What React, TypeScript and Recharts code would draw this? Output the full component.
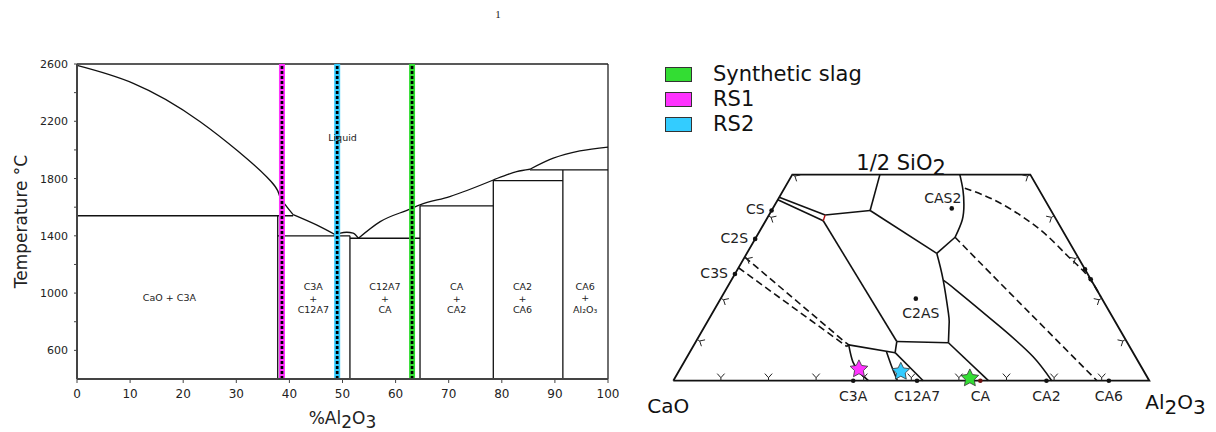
import React from 'react';
import { ComposedChart, Line, Scatter, XAxis, YAxis, ReferenceLine, Label, Legend } from 'recharts';

const FONT = '"DejaVu Sans", Verdana, sans-serif';
const INK = '#111';

type Pt = [number, number];

// ---------- Binary CaO–Al2O3 diagram: [wt% Al2O3, temperature °C] ----------
const compositionTicks = [0, 10, 20, 30, 40, 50, 60, 70, 80, 90, 100];
const temperatureTicks = [600, 800, 1000, 1200, 1400, 1600, 1800, 2000, 2200, 2400, 2600];
const labelledTemperatures = [600, 1000, 1400, 1800, 2200, 2600];

const liquidusCaO: Pt[] = [[0, 2590], [10.6, 2465], [23.2, 2197], [35.7, 1813], [38.2, 1674], [40.7, 1548]];
const liquidusC3A: Pt[] = [[40.7, 1548], [45.1, 1476], [48.9, 1402]];
const liquidusC12A7: Pt[] = [[48.9, 1402], [49.6, 1418], [50.8, 1425], [52.0, 1418], [53.0, 1383]];
const liquidusCA: Pt[] = [[53.0, 1383], [57.1, 1499], [62.7, 1586], [64.6, 1616], [70.2, 1674], [78.4, 1790]];
const liquidusCA2: Pt[] = [[78.4, 1790], [80.9, 1825], [82.8, 1848], [85.3, 1865]];
const liquidusCA6: Pt[] = [[85.3, 1865], [89.7, 1942], [94.7, 1993], [100, 2020]];

const phaseBoundaries: Pt[][] = [
  [[0, 1540], [40.7, 1540]],
  [[37.8, 400], [37.8, 1540]],
  [[37.8, 1400], [51.4, 1400]],
  [[51.4, 400], [51.4, 1400]],
  [[51.4, 1383], [64.6, 1383]],
  [[64.6, 400], [64.6, 1609]],
  [[64.6, 1609], [78.4, 1609]],
  [[78.4, 400], [78.4, 1790]],
  [[78.4, 1785], [91.5, 1785]],
  [[91.5, 400], [91.5, 1860]],
  [[85.3, 1860], [100, 1860]],
];

const regionX = [50, 17.4, 44.5, 58.0, 71.5, 83.9, 95.7];
const regionT = [2085, 970, 964, 964, 964, 964, 966];
const regionText: string[][] = [
  ['Liquid'],
  ['CaO + C3A'],
  ['C3A', '+', 'C12A7'],
  ['C12A7', '+', 'CA'],
  ['CA', '+', 'CA2'],
  ['CA2', '+', 'CA6'],
  ['CA6', '+', 'Al₂O₃'],
];

// ---------- Slag samples ----------
const sampleNames = ['Synthetic slag', 'RS1', 'RS2'];
const sampleColors = ['#33dd33', '#ff33ff', '#33ccff'];
const sampleBinaryAl2O3 = [63.1, 38.6, 49.0];
// [wt% Al2O3, wt% SiO2]
const sampleTernary: Pt[] = [[62.0, 0.6], [37.6, 2.8], [46.7, 2.2]];

// ---------- CaO–Al2O3–SiO2 section (SiO2 up to 50 wt%): [wt% Al2O3, wt% SiO2] ----------
const sectionFrame: Pt[] = [[0, 0], [100, 0], [50, 50], [0, 50], [0, 0]];

const solidBoundaries: Pt[][] = [
  [[0, 44.5], [11.8, 40.2]],
  [[0, 43.9], [12.1, 38.8]],
  [[11.8, 40.2], [20.7, 41.3]],
  [[20.7, 41.3], [18.4, 50]],
  [[20.7, 41.3], [39.9, 30.9]],
  [[39.9, 30.9], [41.8, 34.8]],
  [[12.1, 38.8], [42.2, 9.5]],
  [[42.2, 9.5], [43.2, 6.8]],
  [[42.2, 9.5], [53.2, 9.2]],
  [[53.2, 9.2], [66.2, 0]],
  [[31.5, 9.3], [32.5, 8.7], [32.3, 8.3]],
  [[32.5, 8.7], [43.2, 6.8]],
  [[43.2, 6.8], [52.5, 0]],
];
const curvedBoundaries: Pt[][] = [
  [[41.8, 34.8], [41.2, 39.0], [39.7, 42.7], [37.7, 46.3], [35.2, 50]],
  [[39.9, 30.9], [44.5, 24.4], [49.6, 16.4], [51.0, 13.9], [53.2, 9.2]],
  [[44.5, 24.4], [48.4, 22.0], [62.1, 13.1], [72.7, 5.8], [79.5, 0]],
  [[32.5, 8.7], [35.5, 4.5], [38.3, 1.9], [41.0, 0]],
  [[41.3, 7.0], [44.2, 3.4], [47.1, 0]],
];
const dashedBoundaries: Pt[][] = [
  [[41.8, 34.8], [59.1, 22.0], [89.0, 0]],
  [[37.9, 46.7], [47.1, 43.1], [58.8, 36.6], [67.4, 30.5], [74.0, 25.7], [79.6, 20.4]],
  [[0, 30.0], [31.5, 9.3]],
  [[0, 27.4], [32.3, 8.3]],
];
const redJoin: Pt[] = [[11.8, 40.2], [12.1, 38.8]];

const baseCompounds = ['C3A', 'C12A7', 'CA', 'CA2', 'CA6'];
const baseCompoundAl2O3 = [37.8, 51.2, 64.5, 78.4, 91.5];
const silicateCompounds = ['CS', 'C2S', 'C3S'];
const silicateSiO2 = [41.3, 34.4, 25.9];
const mulliteSiO2 = [27.0, 24.6];
const ternaryCompounds = ['CAS2', 'C2AS'];
const ternaryCompoundAl2O3 = [37.6, 41.0];
const ternaryCompoundSiO2 = [41.8, 19.9];

const edgeTickSteps = [10, 20, 30, 40, 50, 60, 70, 80, 90];
const sideTickSteps = [10, 20, 30, 40, 50];

// ---------- helpers ----------
const toXT = (pts: Pt[]) => pts.map(([x, t]) => ({ x, t }));
const toUV = (pts: Pt[]) => pts.map(([a, s]) => ({ u: a + s / 2, v: s }));

const lineProps = {
  dot: false as const,
  activeDot: false as const,
  isAnimationActive: false,
  legendType: 'none' as const,
};

const TempTick = (props: any) => {
  const { x, y, payload } = props;
  if (!labelledTemperatures.includes(payload.value)) return <g />;
  return (
    <text x={x} y={y} dy={4} textAnchor="end" fontSize={11} fill="#222" fontFamily={FONT}>
      {payload.value}
    </text>
  );
};

const XTitle = (props: any) => {
  const vb = props.viewBox;
  return (
    <text x={vb.x + vb.width / 2} y={vb.y + vb.height} textAnchor="middle" fontSize={17} fill="#222" fontFamily={FONT}>
      %Al<tspan dy={4}>2</tspan>
      <tspan dy={-4}>O</tspan>
      <tspan dy={4}>3</tspan>
    </text>
  );
};

const YTitle = (props: any) => {
  const vb = props.viewBox;
  const cx = vb.x - 6;
  const cy = vb.y + vb.height / 2;
  return (
    <text
      x={cx}
      y={cy}
      transform={`rotate(-90 ${cx} ${cy})`}
      textAnchor="middle"
      dominantBaseline="central"
      fontSize={17}
      fill="#222"
      fontFamily={FONT}
    >
      Temperature °C
    </text>
  );
};

const renderRegionLabel = (p: any) => {
  const lines: string[] = p.payload.lines;
  const step = 11.7;
  const top = p.cy - ((lines.length - 1) * step) / 2 + 3.5;
  return (
    <text key={`r-${p.index}`} textAnchor="middle" fontSize={9.5} fill="#222" fontFamily={FONT}>
      {lines.map((l, i) => (
        <tspan key={i} x={p.cx} y={top + i * step}>
          {l}
        </tspan>
      ))}
    </text>
  );
};

function PhaseDiagram() {
  const regions = regionX.map((x, i) => ({ x, t: regionT[i], lines: regionText[i] }));
  const smoothLiquidus = [liquidusCaO, liquidusC3A];
  const liquidus = [liquidusC12A7, liquidusCA, liquidusCA2, liquidusCA6];
  return (
    <ComposedChart width={620} height={424} margin={{ top: 56, right: 20, bottom: 8, left: 19 }}>
      <XAxis
        type="number"
        dataKey="x"
        domain={[0, 100]}
        ticks={compositionTicks}
        interval={0}
        height={45}
        tickSize={4}
        tickMargin={6}
        tick={{ fontSize: 12, fill: '#222', fontFamily: FONT }}
        axisLine={{ stroke: '#444', strokeWidth: 2 }}
        tickLine={{ stroke: '#444' }}
      >
        <Label content={XTitle} />
      </XAxis>
      <YAxis
        type="number"
        dataKey="t"
        domain={[400, 2600]}
        ticks={temperatureTicks}
        interval={0}
        width={50}
        tickSize={3}
        tickMargin={6}
        tick={TempTick}
        axisLine={{ stroke: '#444', strokeWidth: 2 }}
        tickLine={{ stroke: '#444' }}
      >
        <Label content={YTitle} />
      </YAxis>
      <ReferenceLine y={2600} stroke="#222" strokeWidth={1.3} />
      <ReferenceLine x={100} stroke="#222" strokeWidth={1.3} />
      {smoothLiquidus.map((pts, i) => (
        <Line key={`sliq-${i}`} data={toXT(pts)} dataKey="t" type="natural" stroke={INK} strokeWidth={1.3} {...lineProps} />
      ))}
      {liquidus.map((pts, i) => (
        <Line key={`liq-${i}`} data={toXT(pts)} dataKey="t" type="monotone" stroke={INK} strokeWidth={1.3} {...lineProps} />
      ))}
      {phaseBoundaries.map((pts, i) => (
        <Line key={`pb-${i}`} data={toXT(pts)} dataKey="t" type="linear" stroke={INK} strokeWidth={1.3} {...lineProps} />
      ))}
      <Line data={regions} dataKey="t" stroke="none" dot={renderRegionLabel} activeDot={false} isAnimationActive={false} legendType="none" />
      {sampleBinaryAl2O3.map((x, i) => (
        <Line
          key={`band-${i}`}
          data={toXT([[x, 400], [x, 2600]])}
          dataKey="t"
          type="linear"
          stroke={sampleColors[i]}
          strokeWidth={6}
          {...lineProps}
        />
      ))}
      {sampleBinaryAl2O3.map((x, i) => (
        <Line
          key={`dots-${i}`}
          data={toXT([[x, 400], [x, 2600]])}
          dataKey="t"
          type="linear"
          stroke="#000"
          strokeWidth={2.7}
          strokeDasharray="3 2"
          {...lineProps}
        />
      ))}
    </ComposedChart>
  );
}

// ---------- ternary section ----------
const makeEdgeTick = (angleDeg: number) => (p: any) => {
  const a = (angleDeg * Math.PI) / 180;
  const nx = Math.cos(a);
  const ny = Math.sin(a);
  const sx = p.cx + 3 * nx;
  const sy = p.cy + 3 * ny;
  const spread = (42 * Math.PI) / 180;
  const len = 5.5;
  const ax = sx + len * Math.cos(a - spread);
  const ay = sy + len * Math.sin(a - spread);
  const bx = sx + len * Math.cos(a + spread);
  const by = sy + len * Math.sin(a + spread);
  return (
    <path
      d={`M${p.cx},${p.cy}L${sx},${sy}M${ax},${ay}L${sx},${sy}L${bx},${by}`}
      stroke="#222"
      strokeWidth={1}
      fill="none"
    />
  );
};

const starPath = (cx: number, cy: number, R: number, r: number) => {
  const pts: string[] = [];
  for (let i = 0; i < 10; i++) {
    const ang = ((-90 + i * 36) * Math.PI) / 180;
    const rad = i % 2 === 0 ? R : r;
    pts.push(`${cx + rad * Math.cos(ang)},${cy + rad * Math.sin(ang)}`);
  }
  return pts.join(' ');
};

const makeStar = (color: string) => (p: any) => (
  <polygon points={starPath(p.cx, p.cy, 9.3, 4.6)} fill={color} stroke="#333" strokeWidth={0.8} />
);

const renderBaseCompound = (p: any) => (
  <g>
    <circle cx={p.cx} cy={p.cy} r={2.3} fill={p.payload.name === 'CA' ? '#6b1010' : INK} />
    <text x={p.cx} y={p.cy + 20} textAnchor="middle" fontSize={14} fill="#222" fontFamily={FONT}>
      {p.payload.name}
    </text>
  </g>
);

const renderSilicate = (p: any) => (
  <g>
    <circle cx={p.cx} cy={p.cy} r={2.3} fill={INK} />
    <text x={p.cx - 7} y={p.cy + 4} textAnchor="end" fontSize={14} fill="#222" fontFamily={FONT}>
      {p.payload.name}
    </text>
  </g>
);

const innerLabelOffset: Record<string, [number, number]> = { CAS2: [-9, -5], C2AS: [5, 19.6] };

const renderInnerCompound = (p: any) => {
  const [dx, dy] = innerLabelOffset[p.payload.name] ?? [0, 0];
  return (
    <g>
      <circle cx={p.cx} cy={p.cy} r={2.3} fill={INK} />
      <text x={p.cx + dx} y={p.cy + dy} textAnchor="middle" fontSize={14} fill="#222" fontFamily={FONT}>
        {p.payload.name}
      </text>
    </g>
  );
};

const renderDot = (p: any) => <circle cx={p.cx} cy={p.cy} r={2.3} fill={INK} />;

const renderCornerLabel = (p: any) => {
  const name = p.payload.name;
  if (name === 'CaO') {
    return (
      <text x={p.cx - 26} y={p.cy + 32} fontSize={20} fill="#111" fontFamily={FONT}>
        CaO
      </text>
    );
  }
  if (name === 'Al2O3') {
    return (
      <text x={p.cx - 4} y={p.cy + 28.5} fontSize={20} fill="#111" fontFamily={FONT}>
        Al<tspan dy={5}>2</tspan>
        <tspan dy={-5}>O</tspan>
        <tspan dy={5}>3</tspan>
      </text>
    );
  }
  return (
    <text x={p.cx - 55} y={p.cy - 4.6} fontSize={21} fill="#111" fontFamily={FONT}>
      1/2 SiO<tspan dy={5}>2</tspan>
    </text>
  );
};

const renderLegend = () => (
  <div style={{ fontFamily: FONT }}>
    {sampleNames.map((name, i) => (
      <div key={name} style={{ display: 'flex', alignItems: 'center', height: 25 }}>
        <span
          style={{
            display: 'inline-block',
            width: 27,
            height: 15,
            background: sampleColors[i],
            border: '1.5px solid #333',
            boxSizing: 'border-box',
          }}
        />
        <span style={{ marginLeft: 21, fontSize: 21, color: '#111', lineHeight: '25px' }}>{name}</span>
      </div>
    ))}
  </div>
);

function TernaryDiagram() {
  const corners = toUV([[0, 0], [100, 0], [25, 50]]).map((d, i) => ({ ...d, name: ['CaO', 'Al2O3', 'SiO2'][i] }));
  const baseDots = toUV(baseCompoundAl2O3.map((a) => [a, 0] as Pt)).map((d, i) => ({ ...d, name: baseCompounds[i] }));
  const silDots = toUV(silicateSiO2.map((s) => [0, s] as Pt)).map((d, i) => ({ ...d, name: silicateCompounds[i] }));
  const mulDots = toUV(mulliteSiO2.map((s) => [100 - s, s] as Pt));
  const innerDots = toUV(ternaryCompoundAl2O3.map((a, i) => [a, ternaryCompoundSiO2[i]] as Pt)).map((d, i) => ({
    ...d,
    name: ternaryCompounds[i],
  }));
  const baseTicks = toUV(edgeTickSteps.map((a) => [a, 0] as Pt));
  const leftTicks = toUV(sideTickSteps.map((s) => [0, s] as Pt));
  const rightTicks = toUV(sideTickSteps.map((s) => [100 - s, s] as Pt));

  return (
    <ComposedChart width={568} height={424} margin={{ top: 166.6, right: 58.7, bottom: 51.3, left: 33.3 }}>
      <XAxis type="number" dataKey="u" domain={[0, 100]} hide />
      <YAxis type="number" dataKey="v" domain={[0, 50]} hide />
      <Legend
        content={renderLegend}
        layout="horizontal"
        verticalAlign="middle"
        align="center"
        wrapperStyle={{ left: 25, top: 54, width: 260, height: 75 }}
      />
      <Line data={toUV(sectionFrame)} dataKey="v" type="linear" stroke={INK} strokeWidth={1.8} {...lineProps} />
      {solidBoundaries.map((pts, i) => (
        <Line key={`sb-${i}`} data={toUV(pts)} dataKey="v" type="linear" stroke={INK} strokeWidth={1.6} {...lineProps} />
      ))}
      {curvedBoundaries.map((pts, i) => (
        <Line key={`cb-${i}`} data={toUV(pts)} dataKey="v" type="natural" stroke={INK} strokeWidth={1.6} {...lineProps} />
      ))}
      {dashedBoundaries.map((pts, i) => (
        <Line
          key={`db-${i}`}
          data={toUV(pts)}
          dataKey="v"
          type="natural"
          stroke={INK}
          strokeWidth={1.6}
          strokeDasharray="7 4"
          {...lineProps}
        />
      ))}
      <Line data={toUV(redJoin)} dataKey="v" type="linear" stroke="#b01010" strokeWidth={1.4} {...lineProps} />
      <Scatter data={baseTicks} shape={makeEdgeTick(-90)} isAnimationActive={false} legendType="none" />
      <Scatter data={leftTicks} shape={makeEdgeTick(30)} isAnimationActive={false} legendType="none" />
      <Scatter data={rightTicks} shape={makeEdgeTick(150)} isAnimationActive={false} legendType="none" />
      <Scatter data={baseDots} shape={renderBaseCompound} isAnimationActive={false} legendType="none" />
      <Scatter data={silDots} shape={renderSilicate} isAnimationActive={false} legendType="none" />
      <Scatter data={mulDots} shape={renderDot} isAnimationActive={false} legendType="none" />
      <Scatter data={innerDots} shape={renderInnerCompound} isAnimationActive={false} legendType="none" />
      <Scatter data={corners} shape={renderCornerLabel} isAnimationActive={false} legendType="none" />
      {sampleTernary.map((pt, i) => (
        <Scatter
          key={`star-${i}`}
          name={sampleNames[i]}
          data={toUV([pt])}
          shape={makeStar(sampleColors[i])}
          isAnimationActive={false}
        />
      ))}
    </ComposedChart>
  );
}

export default function App() {
  return (
    <div style={{ position: 'relative', width: 1200, height: 424 }}>
      <div
        style={{
          position: 'absolute',
          left: 480,
          top: 0,
          width: 20,
          textAlign: 'center',
          fontFamily: '"Liberation Serif", serif',
          fontSize: 11,
          lineHeight: '12px',
          color: '#222',
        }}
      >
        1
      </div>
      <div style={{ position: 'absolute', left: 0, top: 0 }}>
        <PhaseDiagram />
      </div>
      <div style={{ position: 'absolute', left: 632, top: 0 }}>
        <TernaryDiagram />
      </div>
    </div>
  );
}
